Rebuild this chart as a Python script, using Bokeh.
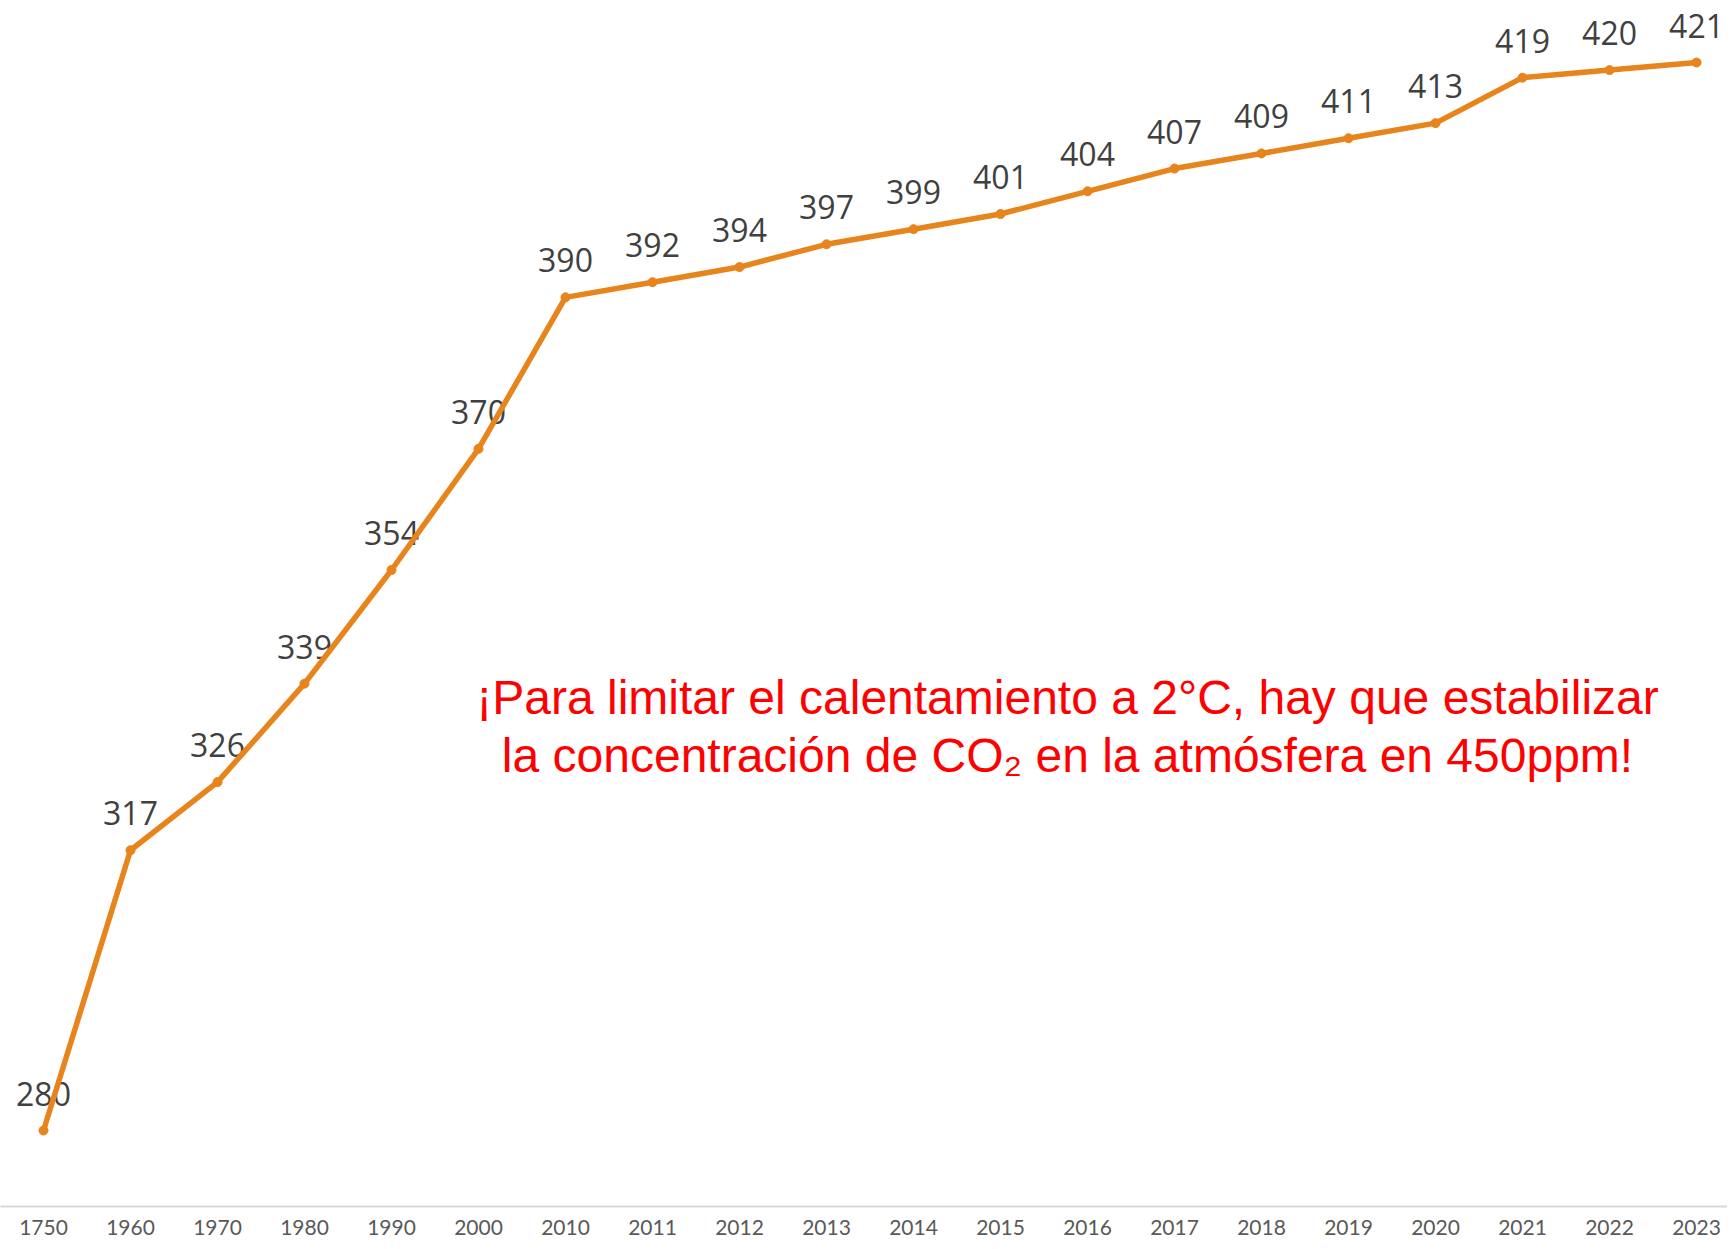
from bokeh.plotting import figure
from bokeh.models import ColumnDataSource, FixedTicker, Label, Range1d
from bokeh.core.properties import value
from bokeh.embed import file_html
from bokeh.resources import INLINE

years = ["1750", "1960", "1970", "1980", "1990", "2000", "2010", "2011", "2012", "2013",
         "2014", "2015", "2016", "2017", "2018", "2019", "2020", "2021", "2022", "2023"]
co2_ppm = [280, 317, 326, 339, 354, 370, 390, 392, 394, 397,
           399, 401, 404, 407, 409, 411, 413, 419, 420, 421]
note_line1 = "¡Para limitar el calentamiento a 2°C, hay que estabilizar"
note_line2 = "la concentración de CO₂ en la atmósfera en 450ppm!"

idx = list(range(len(years)))
src = ColumnDataSource(dict(x=idx, y=co2_ppm, label=[str(v) for v in co2_ppm]))

ORANGE = "#E7841C"

p = figure(width=1727, height=1241, output_backend="svg", toolbar_location=None,
           x_range=Range1d(-0.4943, 19.356), y_range=Range1d(269.97, 429.19),
           y_axis_location=None, min_border_left=0, min_border_right=0,
           min_border_top=0, min_border_bottom=35)
p.outline_line_color = None
p.xgrid.visible = False
p.ygrid.visible = False
p.background_fill_color = "white"
p.border_fill_color = "white"

ax = p.xaxis[0]
ax.ticker = FixedTicker(ticks=idx)
ax.major_label_overrides = {i: y for i, y in zip(idx, years)}
ax.axis_line_color = "#D9D9D9"
ax.axis_line_width = 2
ax.major_tick_line_color = None
ax.minor_tick_line_color = None
ax.major_tick_out = 0
ax.major_tick_in = 0
ax.major_label_standoff = 13
ax.major_label_text_font = "Lato"
ax.major_label_text_font_size = "21px"
ax.major_label_text_color = "#595959"

p.text(x="x", y="y", text="label", source=src, text_align="center",
       text_baseline="alphabetic", y_offset=-37,
       text_font=value("Open Sans"), text_font_size="32px", text_color="#404040")
p.line(x="x", y="y", source=src, line_color=ORANGE, line_width=5.5)
p.scatter(x="x", y="y", source=src, size=9, fill_color=ORANGE, line_color=ORANGE)

for txt, yv in [(note_line1, 337.2), (note_line2, 329.5)]:
    p.add_layout(Label(x=11.77, y=yv, text=txt, text_align="center",
                       text_baseline="middle", text_font="Liberation Sans",
                       text_font_size="48px", text_color="#FF0000"))

open("out.html", "w").write(file_html(p, INLINE))
